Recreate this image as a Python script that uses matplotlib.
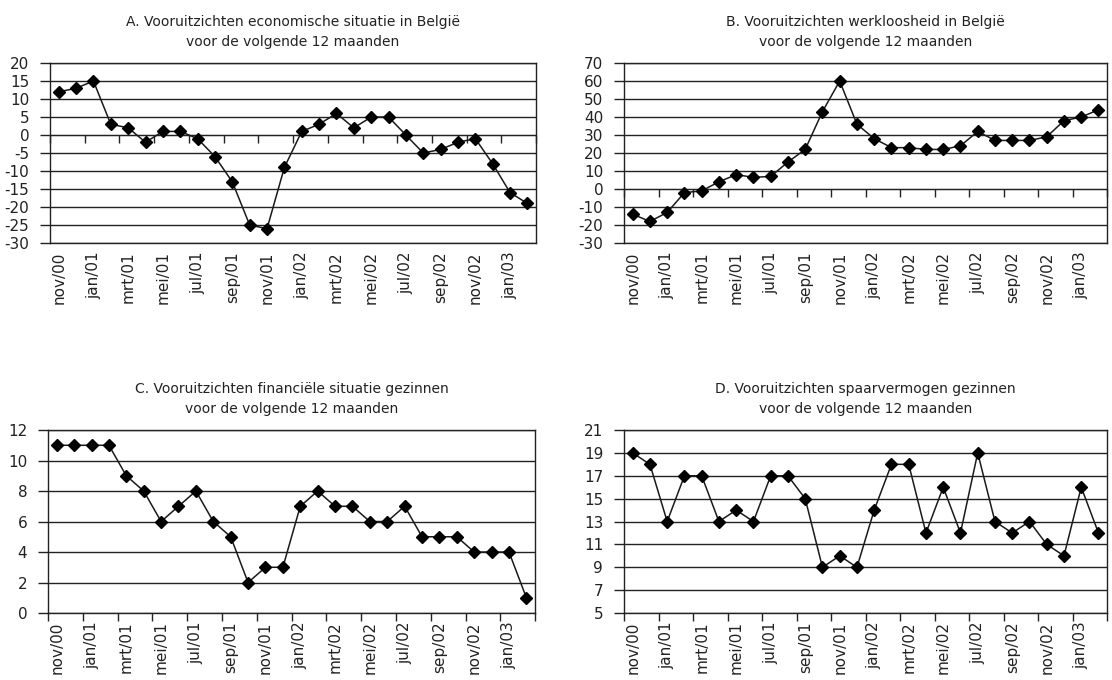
import numpy as np
import matplotlib.pyplot as plt

# maanden (nov/00 - feb/03)
months = ["nov/00", "dec/00", "jan/01", "feb/01", "mrt/01", "apr/01", "mei/01",
          "jun/01", "jul/01", "aug/01", "sep/01", "okt/01", "nov/01", "dec/01",
          "jan/02", "feb/02", "mrt/02", "apr/02", "mei/02", "jun/02", "jul/02",
          "aug/02", "sep/02", "okt/02", "nov/02", "dec/02", "jan/03", "feb/03"]

econ = [12, 13, 15, 3, 2, -2, 1, 1, -1, -6, -13, -25, -26, -9,
        1, 3, 6, 2, 5, 5, 0, -5, -4, -2, -1, -8, -16, -19]
werkloos = [-14, -18, -13, -2, -1, 4, 8, 6.5, 7, 15, 22, 43, 60, 36,
            28, 23, 23, 22, 22, 24, 32, 27, 27, 27, 29, 38, 40, 44]
financ = [11, 11, 11, 11, 9, 8, 6, 7, 8, 6, 5, 2, 3, 3,
          7, 8, 7, 7, 6, 6, 7, 5, 5, 5, 4, 4, 4, 1]
spaar = [19, 18, 13, 17, 17, 13, 14, 13, 17, 17, 15, 9, 10, 9,
         14, 18, 18, 12, 16, 12, 19, 13, 12, 13, 11, 10, 16, 12]

titles = ["A. Vooruitzichten economische situatie in België\nvoor de volgende 12 maanden",
          "B. Vooruitzichten werkloosheid in België\nvoor de volgende 12 maanden",
          "C. Vooruitzichten financiële situatie gezinnen\nvoor de volgende 12 maanden",
          "D. Vooruitzichten spaarvermogen gezinnen\nvoor de volgende 12 maanden"]
series = [econ, werkloos, financ, spaar]
yranges = [(-30, 20, 5), (-30, 70, 10), (0, 12, 2), (5, 21, 2)]
positions = [[0.045, 0.6426, 0.4371, 0.2647],
             [0.5612, 0.6426, 0.4344, 0.2647],
             [0.0432, 0.0985, 0.4380, 0.2691],
             [0.5612, 0.0985, 0.4344, 0.2691]]

plt.rcParams['font.family'] = ['DejaVu Sans']
plt.rcParams['axes.unicode_minus'] = False

fig = plt.figure(figsize=(11.12, 6.8), dpi=100)
x = np.arange(len(months))
boundaries = np.arange(-0.5, len(months), 2)

for vals, title, (ymin, ymax, step), pos in zip(series, titles, yranges, positions):
    ax = fig.add_axes(pos)
    ax.plot(x, vals, color="#1a1a1a", lw=1.1, marker="D", ms=6.5,
            mfc="black", mec="black", zorder=3)
    ax.set_xlim(-0.5, len(months) - 0.5)
    ax.set_ylim(ymin, ymax)
    ax.set_yticks(np.arange(ymin, ymax + step, step))
    ax.yaxis.grid(True, color="#222222", lw=1)
    ax.set_axisbelow(True)
    ax.tick_params(axis="y", length=7, width=1, labelsize=11, pad=8,
                   color="#222222", labelcolor="#222222")
    for s in ax.spines.values():
        s.set_color("#222222")
        s.set_linewidth(1)

    # labels on the category centres, ticks on the boundaries
    ax.set_xticks(x[::2], labels=months[::2], minor=True)
    ax.tick_params(axis="x", which="minor", length=0, pad=6,
                   labelrotation=90, labelsize=11, labelcolor="#222222")
    ax.set_xticks(boundaries, labels=[""] * len(boundaries))
    if ymin < 0:
        ax.tick_params(axis="x", which="major", length=0)
        sec = ax.secondary_xaxis((0 - ymin) / (ymax - ymin))
        sec.set_alignment("bottom")
        sec.set_xticks(boundaries, labels=[""] * len(boundaries))
        sec.tick_params(length=6, width=1, color="#222222", direction="out")
        sec.spines["bottom"].set_color("#222222")
    else:
        ax.tick_params(axis="x", which="major", length=6, width=1,
                       color="#222222")
    ax.set_title(title, fontsize=10, pad=12, linespacing=1.6, color="#222222")

plt.savefig("out.png", dpi=100)
